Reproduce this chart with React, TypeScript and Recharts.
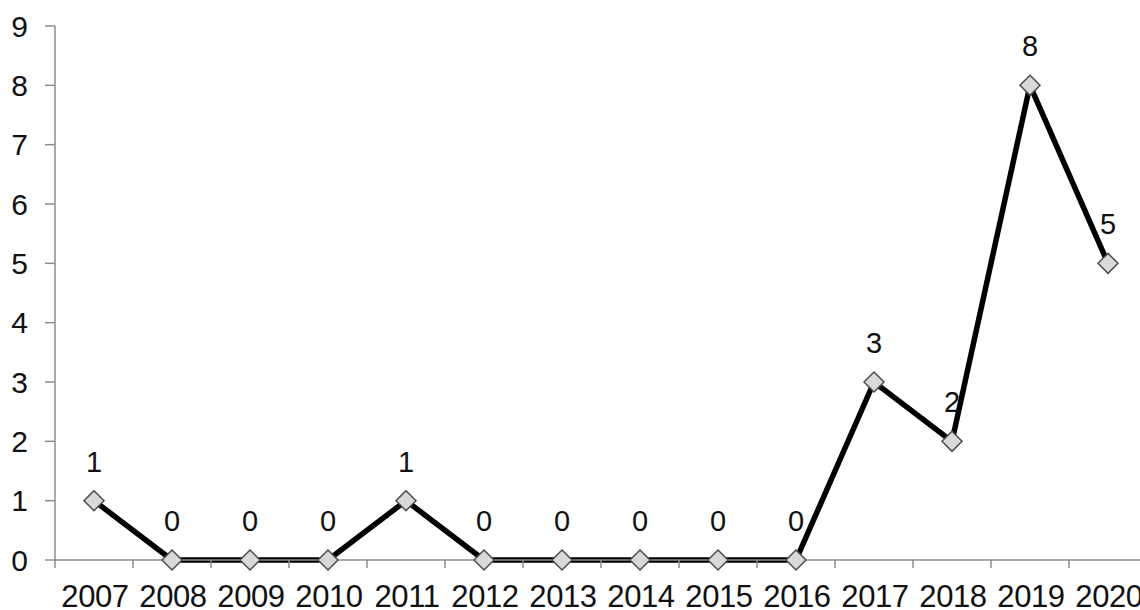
import { LineChart, Line, XAxis, YAxis, LabelList } from "recharts";

const years = ["2007", "2008", "2009", "2010", "2011", "2012", "2013", "2014", "2015", "2016", "2017", "2018", "2019", "2020"];
const counts = [1, 0, 0, 0, 1, 0, 0, 0, 0, 0, 3, 2, 8, 5];
const yTicks = [0, 1, 2, 3, 4, 5, 6, 7, 8, 9];

const data = years.map((year, i) => ({ year, count: counts[i] }));

const W = 1150;
const H = 610;
const LEFT = 55;
const RIGHT = 3;
const BAND = (W - LEFT - RIGHT) / years.length;
const FONT = "'Liberation Sans', Arial, sans-serif";
const AXIS = "#8c8c8c";

function XTick(props: any) {
  const { x, y, payload, index } = props;
  const last = index === years.length - 1;
  return (
    <g>
      <line x1={x - BAND / 2} x2={x - BAND / 2} y1={y} y2={y + 8} stroke={AXIS} strokeWidth={1.5} />
      {last && <line x1={x + BAND / 2} x2={x + BAND / 2} y1={y} y2={y + 8} stroke={AXIS} strokeWidth={1.5} />}
      <text x={x + 1} y={y + 47} textAnchor="middle" fontSize={31} letterSpacing={-0.4} fill="#111" fontFamily={FONT}>
        {payload.value}
      </text>
    </g>
  );
}

function Diamond(props: any) {
  const { cx, cy } = props;
  if (cx == null || cy == null) return null;
  const r = 10;
  return (
    <polygon
      points={`${cx},${cy - r} ${cx + r},${cy} ${cx},${cy + r} ${cx - r},${cy}`}
      fill="#d9d9d9"
      stroke="#4d4d4d"
      strokeWidth={1.5}
    />
  );
}

export default function App() {
  return (
    <div style={{ position: "absolute", left: 0, top: 0, width: 1140, height: H, overflow: "hidden", background: "#fff" }}>
      <LineChart width={W} height={H} data={data} margin={{ top: 26, right: RIGHT, left: 0, bottom: 0 }}>
        <XAxis
          dataKey="year"
          interval={0}
          height={50}
          padding={{ left: BAND / 2, right: BAND / 2 }}
          tickSize={0}
          tickMargin={0}
          tickLine={false}
          axisLine={{ stroke: AXIS, strokeWidth: 1.5 }}
          tick={<XTick />}
        />
        <YAxis
          width={LEFT}
          domain={[0, 9]}
          ticks={yTicks}
          interval={0}
          tickSize={10}
          tickMargin={17}
          axisLine={{ stroke: AXIS, strokeWidth: 1.5 }}
          tickLine={{ stroke: AXIS, strokeWidth: 1.5 }}
          tick={{ fontSize: 30, fill: "#111", fontFamily: FONT }}
        />
        <Line
          type="linear"
          dataKey="count"
          stroke="#000"
          strokeWidth={5.5}
          dot={<Diamond />}
          activeDot={false}
          isAnimationActive={false}
        >
          <LabelList dataKey="count" position="top" offset={29} fontSize={29} fill="#111" fontFamily={FONT} />
        </Line>
      </LineChart>
    </div>
  );
}
